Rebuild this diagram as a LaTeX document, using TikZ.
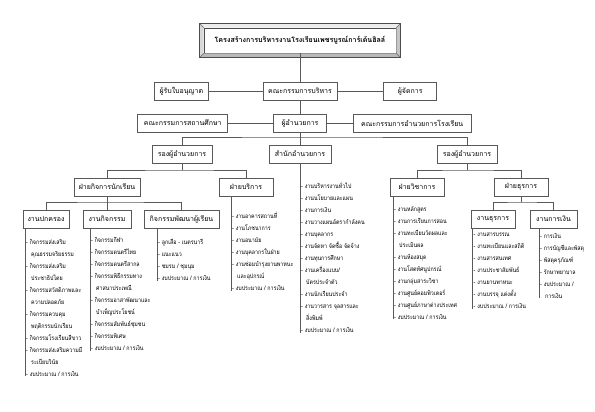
\documentclass[tikz,border=0pt]{standalone}
\usepackage{fontspec}
\setmainfont[Script=Thai]{Loma}
\newfontfamily\listfont[Script=Thai, FakeStretch=0.86]{Loma}
\usetikzlibrary{positioning}
\newcommand{\subline}{\hspace*{5pt}}

\begin{document}
\begin{tikzpicture}[
    x=1pt, y=-1pt,
    box/.style={draw=black!65, line width=0.7pt, rectangle, minimum height=18pt, inner sep=1pt, font=\fontsize{7}{8}\selectfont},
    titlebox/.style={draw=black!70, line width=0.6pt, fill=white, minimum width=192pt, minimum height=25pt, font=\fontsize{7.1}{9}\selectfont\bfseries},
    list/.style={anchor=north west, align=left, inner xsep=1pt, inner ysep=0pt, font=\listfont\fontsize{6.2}{12}\selectfont},
    link/.style={draw=black!65, line width=0.6pt}
]
    \useasboundingbox (0,0) rectangle (595,412);

    % title with bevelled frame
    \node[titlebox] (title) at (300,40.5) {โครงสร้างการบริหารงานโรงเรียนเพชรบูรณ์การ์เด้นฮิลล์};
    \coordinate (frameNW) at ([shift={(-4pt,4pt)}]title.north west);
    \coordinate (frameNE) at ([shift={(4pt,4pt)}]title.north east);
    \coordinate (frameSW) at ([shift={(-4pt,-4pt)}]title.south west);
    \coordinate (frameSE) at ([shift={(4pt,-4pt)}]title.south east);
    \fill[gray!15] (frameNW) -- (frameNE) -- (title.north east) -- (title.north west) -- cycle;
    \fill[gray!30] (frameNW) -- (frameSW) -- (title.south west) -- (title.north west) -- cycle;
    \fill[gray!45] (frameNE) -- (frameSE) -- (title.south east) -- (title.north east) -- cycle;
    \fill[gray!55] (frameSW) -- (frameSE) -- (title.south east) -- (title.south west) -- cycle;
    \draw[black!70, line width=0.6pt] (frameNW) rectangle (frameSE);
    \draw[black!60, line width=0.4pt] (frameNW) -- (title.north west) (frameNE) -- (title.north east)
        (frameSW) -- (title.south west) (frameSE) -- (title.south east);

    % board level
    \node[box, minimum width=74pt] (board) at (300,91) {คณะกรรมการบริหาร};
    \node[box, minimum width=54pt, left=54pt of board] (licensee) {ผู้รับใบอนุญาต};
    \node[box, minimum width=53pt, right=46pt of board] (manager) {ผู้จัดการ};

    \node[box, minimum width=53pt] (director) at (300,123) {ผู้อำนวยการ};
    \node[box, minimum width=90pt, left=45pt of director] (schoolboard) {คณะกรรมการสถานศึกษา};
    \node[box, minimum width=118pt, right=26pt of director] (execboard) {คณะกรรมการอำนวยการโรงเรียน};

    % deputies and office
    \node[box, minimum width=60pt] (deputyL) at (182,154) {รองผู้อำนวยการ};
    \node[box, minimum width=62pt] (office) at (300,154) {สำนักอำนวยการ};
    \node[box, minimum width=60pt] (deputyR) at (467,154) {รองผู้อำนวยการ};

    % divisions
    \node[box, minimum width=66pt] (student) at (107,187) {ฝ่ายกิจการนักเรียน};
    \node[box, minimum width=54pt] (service) at (246,187) {ฝ่ายบริการ};
    \node[box, minimum width=54pt] (academic) at (417,187) {ฝ่ายวิชาการ};
    \node[box, minimum width=54pt] (admin) at (521,187) {ฝ่ายธุรการ};

    % sections
    \node[box, minimum width=46pt] (discipline) at (46,219) {งานปกครอง};
    \node[box, minimum width=48pt] (activity) at (107,219) {งานกิจกรรม};
    \node[box, minimum width=75pt] (development) at (181.5,219) {กิจกรรมพัฒนาผู้เรียน};
    \node[box, minimum width=44pt] (clerical) at (493,219) {งานธุรการ};
    \node[box, minimum width=47pt] (finance) at (553.5,219) {งานการเงิน};

    % connectors
    \coordinate (busA) at (300,137);
    \coordinate (busB) at (182,170);
    \coordinate (busC) at (467,170);
    \coordinate (busD) at (107,202);
    \coordinate (busE) at (521,202);
    \draw[link] (title) -- (board);
    \draw[link] (board) -- (director);
    \draw[link] (licensee) -- (board);
    \draw[link] (board) -- (manager);
    \draw[link] (schoolboard) -- (director);
    \draw[link] (director) -- (execboard);
    \draw[link] (director) -- (office);
    \draw[link] (deputyL) |- (busA) -| (deputyR);
    \draw[link] (deputyL) -- (busB);
    \draw[link] (student) |- (busB) -| (service);
    \draw[link] (deputyR) -- (busC);
    \draw[link] (academic) |- (busC) -| (admin);
    \draw[link] (student) -- (activity);
    \draw[link] (discipline) |- (busD) -| (development);
    \draw[link] (admin) -- (busE);
    \draw[link] (clerical) |- (busE) -| (finance);

    % task lists
    \node[list] (disciplinelist) at (25,239) {- กิจกรรมส่งเสริม\\ \subline คุณธรรมจริยธรรม\\ - กิจกรรมส่งเสริม\\ \subline ประชาธิปไตย\\ - กิจกรรมสวัสดิภาพและ\\ \subline ความปลอดภัย\\ - กิจกรรมควบคุม\\ \subline พฤติกรรมนักเรียน\\ - กิจกรรมโรงเรียนสีขาว\\ - กิจกรรมส่งเสริมความมี\\ \subline ระเบียบวินัย\\ - งบประมาณ / การเงิน};
    \node[list] (activitylist) at (90,237) {- กิจกรรมกีฬา\\ - กิจกรรมดนตรีไทย\\ - กิจกรรมดนตรีสากล\\ - กิจกรรมพิธีกรรมทาง\\ \subline ศาสนาประเพณี\\ - กิจกรรมอาสาพัฒนาและ\\ \subline บำเพ็ญประโยชน์\\ - กิจกรรมสัมพันธ์ชุมชน\\ - กิจกรรมพิเศษ\\ - งบประมาณ / การเงิน};
    \node[list] (developmentlist) at (157,239) {- ลูกเสือ - เนตรนารี\\ - แนะแนว\\ - ชมรม / ชุมนุม\\ - งบประมาณ / การเงิน};
    \node[list] (servicelist) at (231,212) {- งานอาคารสถานที่\\ - งานโภชนาการ\\ - งานอนามัย\\ - งานบุคลากรในฝ่าย\\ - งานซ่อมบำรุงยานพาหนะ\\ \subline และอุปกรณ์\\ - งบประมาณ / การเงิน};
    \node[list] (officelist) at (300,182) {- งานบริหารงานทั่วไป\\ - งานนโยบายและแผน\\ - งานการเงิน\\ - งานวางแผนอัตรากำลังคน\\ - งานบุคลากร\\ - งานจัดหา จัดซื้อ จัดจ้าง\\ - งานทุนการศึกษา\\ - งานเครื่องแบบ/\\ \subline บัตรประจำตัว\\ - งานนักเรียนประจำ\\ - งานวารสาร จุลสารและ\\ \subline สิ่งพิมพ์\\ - งบประมาณ / การเงิน};
    \node[list] (academiclist) at (393,206) {- งานหลักสูตร\\ - งานการเรียนการสอน\\ - งานทะเบียนวัดผลและ\\ \subline ประเมินผล\\ - งานห้องสมุด\\ - งานโสตทัศนูปกรณ์\\ - งานกลุ่มสาระวิชา\\ - งานศูนย์คอมพิวเตอร์\\ - งานศูนย์ภาษาต่างประเทศ\\ - งบประมาณ / การเงิน};
    \node[list] (clericallist) at (472.5,233) {- งานสารบรรณ\\ - งานทะเบียนและสถิติ\\ - งานสารสนเทศ\\ - งานประชาสัมพันธ์\\ - งานยานพาหนะ\\ - งานบรรจุ แต่งตั้ง\\ - งบประมาณ / การเงิน};
    \node[list] (financelist) at (539,233) {- การเงิน\\ - การบัญชีและพัสดุ\\ - พัสดุครุภัณฑ์\\ - รักษาพยาบาล\\ - งบประมาณ /\\ \subline การเงิน};

    \draw[link] (disciplinelist.north west |- discipline.south) -- (disciplinelist.south west);
    \draw[link] (activitylist.north west |- activity.south) -- (activitylist.south west);
    \draw[link] (developmentlist.north west |- development.south) -- (developmentlist.south west);
    \draw[link] (servicelist.north west |- service.south) -- (servicelist.south west);
    \draw[link] (office) -- (office.south |- officelist.south);
    \draw[link] (academiclist.north west |- academic.south) -- (academiclist.south west);
    \draw[link] (clericallist.north west |- clerical.south) -- (clericallist.south west);
    \draw[link] (financelist.north west |- finance.south) -- (financelist.south west);
\end{tikzpicture}
\end{document}
